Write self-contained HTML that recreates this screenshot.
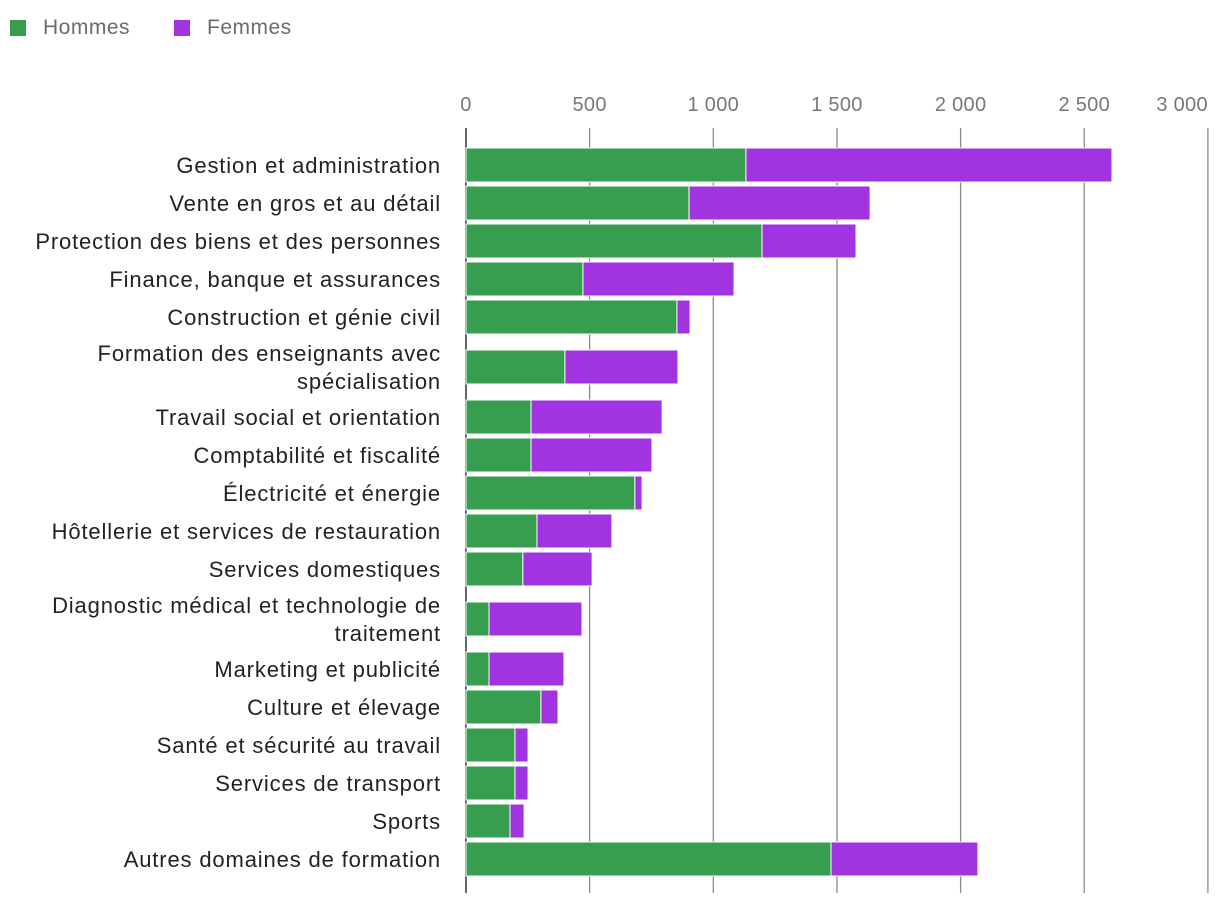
<!DOCTYPE html>
<html><head><meta charset="utf-8"><style>
html,body{margin:0;padding:0;background:#fff;}
body{width:1220px;height:906px;overflow:hidden;font-family:"Liberation Sans",sans-serif;}
</style></head><body>
<svg id="chart" width="1220" height="906" xmlns="http://www.w3.org/2000/svg">
<g>
<rect x="10" y="20" width="16" height="16" fill="#389e4f"/>
<text x="43" y="34" font-size="21" letter-spacing="0.5" fill="#6b6b6b">Hommes</text>
<rect x="174" y="20" width="16" height="16" fill="#a233e0"/>
<text x="207" y="34" font-size="21" letter-spacing="0.5" fill="#6b6b6b">Femmes</text>
</g>
<g id="grid"></g><g id="bars"></g><g id="labels"></g>
</svg>
<script>
const categories = [["Gestion et administration"],["Vente en gros et au détail"],["Protection des biens et des personnes"],["Finance, banque et assurances"],["Construction et génie civil"],["Formation des enseignants avec","spécialisation"],["Travail social et orientation"],["Comptabilité et fiscalité"],["Électricité et énergie"],["Hôtellerie et services de restauration"],["Services domestiques"],["Diagnostic médical et technologie de","traitement"],["Marketing et publicité"],["Culture et élevage"],["Santé et sécurité au travail"],["Services de transport"],["Sports"],["Autres domaines de formation"]];
const hommes = [1132,902,1197,473,853,400,263,263,683,287,230,93,93,303,198,198,178,1476];
const femmes = [1480,732,380,611,53,457,530,489,29,303,280,376,303,69,53,53,57,594];
const ticks = [0,500,1000,1500,2000,2500,3000];
const tickLabels = ["0","500","1 000","1 500","2 000","2 500","3 000"];

const NS="http://www.w3.org/2000/svg";
const x0=466, pxPerUnit=0.2473;
function xs(v){return x0+v*pxPerUnit;}
function mk(tag,attrs,parent){const e=document.createElementNS(NS,tag);for(const k in attrs)e.setAttribute(k,attrs[k]);parent.appendChild(e);return e;}
const grid=document.getElementById('grid'),bars=document.getElementById('bars'),labels=document.getElementById('labels');
ticks.forEach((t,i)=>{
  const l=mk('line',{x1:xs(t),x2:xs(t),y1:128,y2:893,stroke:i===0?'#666':'#8a8a8a','stroke-width':i===0?2:1.3},grid);
  
  
  const last=i===ticks.length-1;
  const tx=mk('text',{x:last?xs(t):xs(t),y:111,'font-size':20,'letter-spacing':0.3,fill:'#777','text-anchor':last?'end':'middle'},grid);
  tx.textContent=tickLabels[i];
  
  
});
let y=146;
categories.forEach((c,i)=>{
  const rowH=c.length>1?62:38;
  const cy=y+rowH/2;
  const bh=34, by=cy-bh/2;
  const g=mk('rect',{x:xs(0),y:by,width:hommes[i]*pxPerUnit,height:bh,fill:'#389e4f',stroke:'#fff','stroke-width':1},bars);
  
  
  const f=mk('rect',{x:xs(hommes[i]),y:by,width:femmes[i]*pxPerUnit,height:bh,fill:'#a233e0',stroke:'#fff','stroke-width':1},bars);
  
  
  c.forEach((line,j)=>{
    const ty=cy+8+(c.length>1?(j===0?-14:14):0);
    const t=mk('text',{x:441,y:ty,'font-size':22,'letter-spacing':0.85,fill:'#222','text-anchor':'end'},labels);
    t.textContent=line;
    
    
  });
  y+=rowH;
});
</script>
</body></html>
